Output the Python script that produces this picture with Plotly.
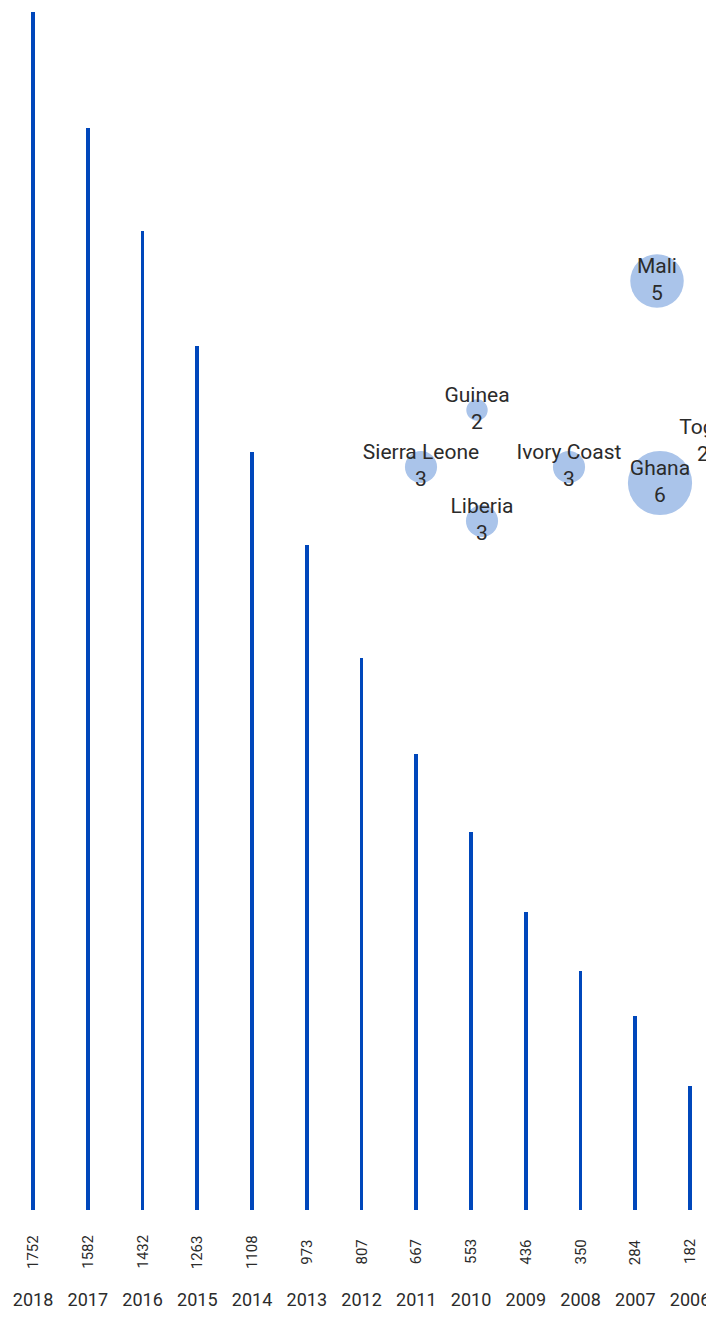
import plotly.graph_objects as go

years = ["2018", "2017", "2016", "2015", "2014", "2013", "2012", "2011", "2010", "2009", "2008", "2007", "2006"]
counts = [1752, 1582, 1432, 1263, 1108, 973, 807, 667, 553, 436, 350, 284, 182]

countries = ["Mali", "Guinea", "Sierra Leone", "Ivory Coast", "Liberia", "Ghana", "Togo"]
country_values = [5, 2, 3, 3, 3, 6, 2]
# bubble layout positions (overlay axis units)
bubble_x = [657, 477, 421, 569, 482, 660, 703]
bubble_y = [281, 410, 467, 467, 521, 483, 442]
bubble_visible = [1, 1, 1, 1, 1, 1, 0]

title_text = "Africa"

FONT = "Roboto"
BAR_COLOR = "#0047BB"
BUBBLE_COLOR = "rgba(170,196,234,{})"
TEXT_COLOR = "#2b2b2b"

fig = go.Figure()

fig.add_trace(go.Bar(
    x=list(range(len(years))), y=counts,
    width=0.07,
    marker=dict(color=BAR_COLOR, line=dict(width=0)),
    hoverinfo="skip", showlegend=False,
))

fig.add_trace(go.Scatter(
    x=bubble_x, y=bubble_y,
    xaxis="x2", yaxis="y2",
    mode="markers+text",
    marker=dict(
        size=[v * 10.7 for v in country_values],
        sizemode="diameter",
        color=[BUBBLE_COLOR.format(a) for a in bubble_visible],
        opacity=1,
        line=dict(width=0),
    ),
    text=[f"{c}<br>{v}" for c, v in zip(countries, country_values)],
    textposition="middle center",
    textfont=dict(family=FONT, size=21, color=TEXT_COLOR),
    cliponaxis=False,
    hoverinfo="skip", showlegend=False,
))

annotations = []
for i, v in enumerate(counts):
    annotations.append(dict(
        x=i, y=0, xref="x", yref="paper",
        text=str(v), textangle=-90, showarrow=False,
        yanchor="middle", xanchor="center", yshift=-42,
        font=dict(family=FONT, size=15, color=TEXT_COLOR),
    ))
annotations.append(dict(
    x=708, y=58, xref="x2", yref="y2", text=title_text, showarrow=False,
    xanchor="left", yanchor="middle",
    font=dict(family=FONT, size=21, color=TEXT_COLOR),
))

fig.update_layout(
    width=706, height=1303,
    margin=dict(l=0, r=0, t=0, b=101),
    paper_bgcolor="white", plot_bgcolor="white",
    bargap=0,
    xaxis=dict(
        range=[-0.457, 12.438],
        tickmode="array", tickvals=list(range(len(years))), ticktext=years,
        showgrid=False, zeroline=False, showline=False, ticks="",
        tickfont=dict(family=FONT, size=18, color=TEXT_COLOR),
        ticklabelstandoff=77,
    ),
    yaxis=dict(range=[0, 1757.9], visible=False, showgrid=False, zeroline=False),
    xaxis2=dict(range=[8, 714], overlaying="x", visible=False),
    yaxis2=dict(range=[1210, 8], overlaying="y", visible=False),
    annotations=annotations,
)

fig.write_html("out.html")
